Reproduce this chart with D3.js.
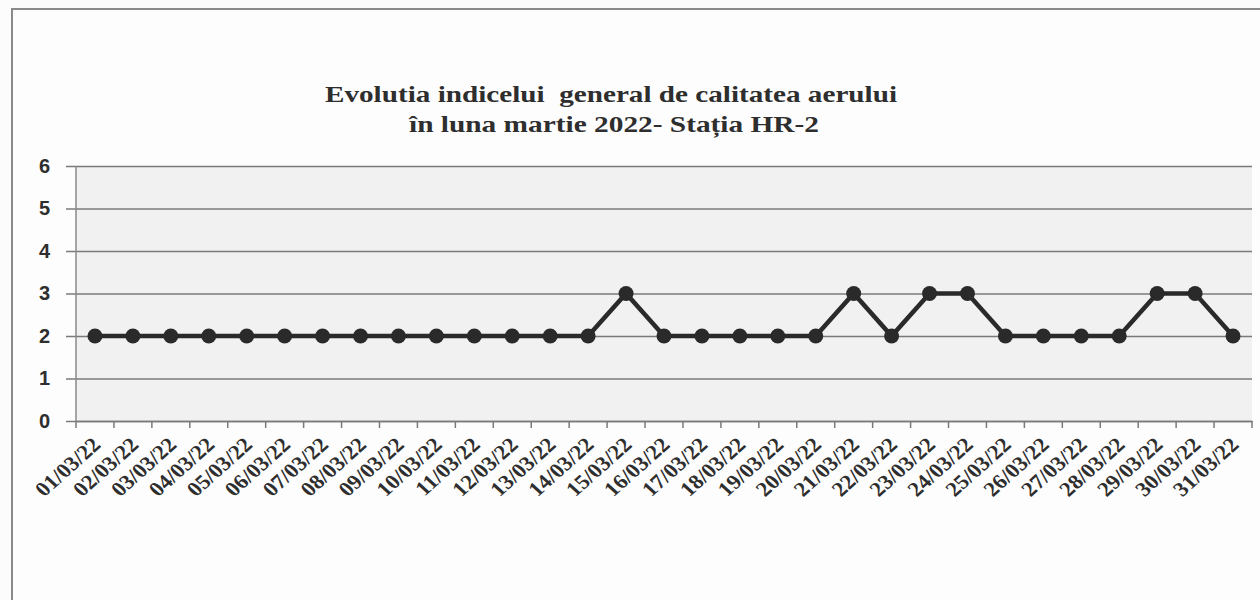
<!DOCTYPE html>
<html><head><meta charset="utf-8">
<script src="https://cdn.jsdelivr.net/npm/d3@7"></script>
<style>
html,body{margin:0;padding:0;background:#fcfcfc;}
svg{display:block;}
</style></head>
<body>
<svg id="chart" width="1260" height="600"></svg>
<script>
const dates = ["01/03/22","02/03/22","03/03/22","04/03/22","05/03/22","06/03/22","07/03/22","08/03/22","09/03/22","10/03/22","11/03/22","12/03/22","13/03/22","14/03/22","15/03/22","16/03/22","17/03/22","18/03/22","19/03/22","20/03/22","21/03/22","22/03/22","23/03/22","24/03/22","25/03/22","26/03/22","27/03/22","28/03/22","29/03/22","30/03/22","31/03/22"];
const values = [2,2,2,2,2,2,2,2,2,2,2,2,2,2,3,2,2,2,2,2,3,2,3,3,2,2,2,2,3,3,2];
const yTicks = [0,1,2,3,4,5,6];
const titleLines = ["Evolutia indicelui  general de calitatea aerului","în luna martie 2022- Stația HR-2"];

const svg = d3.select("#chart");
const L = 76, R = 1252, T = 166, B = 421;
const x = d3.scaleBand().domain(dates).range([L, R]);
const y = d3.scaleLinear().domain([0, 6]).range([B, T]);

// outer frame
svg.append("rect").attr("x", 12).attr("y", 9).attr("width", 1260).attr("height", 620)
  .attr("fill", "#fdfdfd").attr("stroke", "#8a8a8a").attr("stroke-width", 2);

// plot area
svg.append("rect").attr("x", L).attr("y", T).attr("width", R - L).attr("height", B - T)
  .attr("fill", "#f1f1f1");

// title
const titleSizes = [{x: 611, y: 102, len: 572}, {x: 614, y: 132, len: 410}];
titleLines.forEach((t, i) => {
  svg.append("text").attr("x", titleSizes[i].x).attr("y", titleSizes[i].y)
    .attr("text-anchor", "middle")
    .attr("font-family", "'Liberation Serif','Times New Roman',serif")
    .attr("font-weight", "bold").attr("font-size", 23.5).attr("fill", "#2e2e2e")
    .attr("textLength", titleSizes[i].len).attr("lengthAdjust", "spacingAndGlyphs")
    .attr("xml:space", "preserve")
    .text(t);
});

// y axis with gridlines
const gy = svg.append("g").attr("transform", `translate(${L - 10},0)`)
  .call(d3.axisLeft(y).tickValues(yTicks).tickSize(-(R - L + 10)).tickPadding(16).tickFormat(d3.format("d")));
gy.select(".domain").remove();
gy.selectAll(".tick line").attr("stroke", "#7a7a7a").attr("stroke-width", 1.6);
gy.selectAll(".tick text").attr("font-family", "'Liberation Sans',Arial,sans-serif")
  .attr("font-weight", "bold").attr("font-size", 20).attr("fill", "#2e2e2e");

// vertical axis line
svg.append("line").attr("x1", L).attr("x2", L).attr("y1", T).attr("y2", B)
  .attr("stroke", "#8a8a8a").attr("stroke-width", 1.5);

// x axis
const gx = svg.append("g").attr("transform", `translate(0,${B})`)
  .call(d3.axisBottom(x).tickSize(0));
gx.select(".domain").attr("stroke", "#7a7a7a").attr("stroke-width", 1.6);
gx.selectAll(".tick text")
  .attr("font-family", "'Liberation Serif','Times New Roman',serif")
  .attr("font-weight", "bold").attr("font-size", 20.5).attr("fill", "#2e2e2e")
  .attr("text-anchor", "end").attr("y", 0).attr("dy", 0)
  .attr("transform", "translate(7,25) scale(1.12,1) rotate(-45)");

// boundary ticks
const bounds = dates.map(d => x(d)).concat([x(dates[dates.length - 1]) + x.bandwidth()]);
svg.append("g").selectAll("line").data(bounds).join("line")
  .attr("x1", d => d).attr("x2", d => d).attr("y1", B).attr("y2", B + 7)
  .attr("stroke", "#7a7a7a").attr("stroke-width", 1.5);

// series
const cx = d => x(d) + x.bandwidth() / 2;
const line = d3.line().x((d, i) => cx(dates[i])).y(d => y(d));
svg.append("path").datum(values).attr("d", line)
  .attr("fill", "none").attr("stroke", "#2a2a2a").attr("stroke-width", 4.5);
svg.append("g").selectAll("circle").data(values).join("circle")
  .attr("cx", (d, i) => cx(dates[i])).attr("cy", d => y(d)).attr("r", 7.5)
  .attr("fill", "#2a2a2a");
</script>
</body></html>
